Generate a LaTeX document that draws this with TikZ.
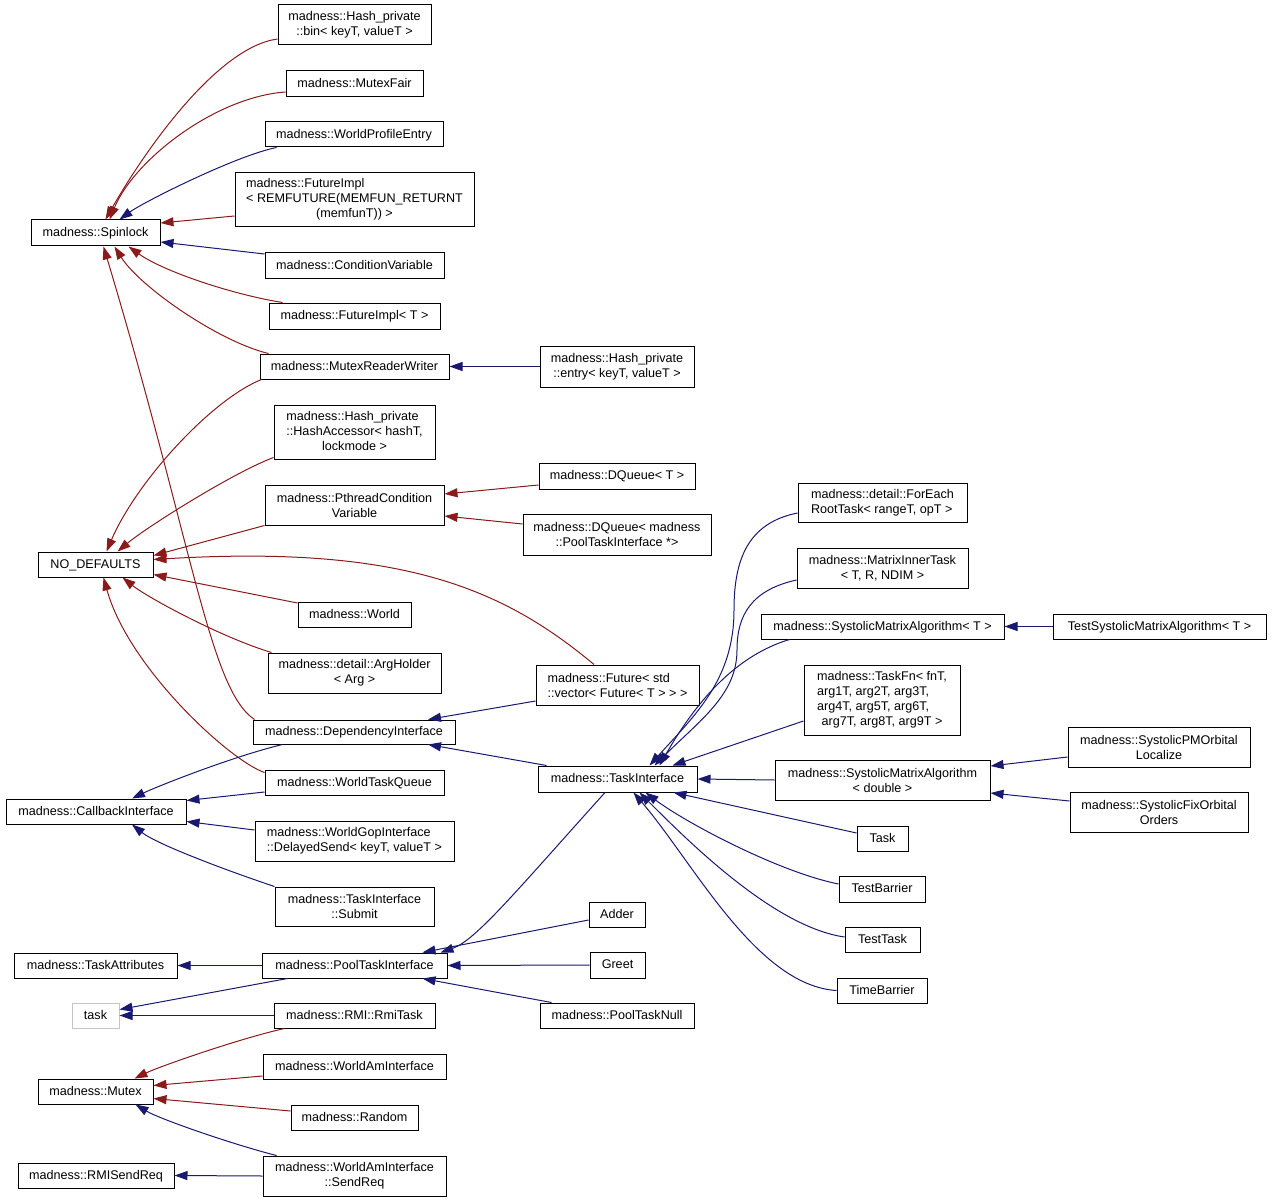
\documentclass[tikz,border=0pt]{standalone}
\usepackage{fontspec}
\setmainfont{Liberation Sans}
\usetikzlibrary{arrows.meta}
\definecolor{firebrick}{HTML}{8B1A1A}
\definecolor{navy}{HTML}{191970}
% class box from its corners: [style]{x1}{y1}{x2}{y2}{name}{label}
\newcommand{\klass}[7][cls]{\node[#1, minimum width={#4-#2}, minimum height={#5-#3}] (#6) at ({(#2+#4)/2},{(#3+#5)/2}) {#7};}

\begin{document}
\begin{tikzpicture}[x=1pt, y=-1pt,
    boxbase/.style={draw, fill=white, line width=1pt, inner sep=0pt, font=\fontsize{12.6}{15}\selectfont},
    cls/.style={boxbase, text height=10pt, text depth=2.5pt},
    mcls/.style={boxbase, align=center},
    lcls/.style={boxbase, align=left},
    pub/.style={draw=navy, line width=1pt, -{Triangle[length=13pt, width=9pt]}},
    priv/.style={draw=firebrick, line width=1pt, -{Triangle[length=13pt, width=9pt]}}]
  \useasboundingbox (0,0) rectangle (1272,1201);
  % first column: base classes
  \klass{31}{220}{160}{246}{spin}{madness::Spinlock}
  \klass{38}{552}{153}{577}{nodef}{NO\_DEFAULTS}
  \klass{6}{799}{186}{824}{cbi}{madness::CallbackInterface}
  \klass{14}{953}{177}{978}{tattr}{madness::TaskAttributes}
  \klass[cls, draw=gray!45]{72}{1003}{119}{1028}{task}{task}
  \klass{38}{1079}{153}{1104}{mutex}{madness::Mutex}
  \klass{18}{1163}{174}{1188}{rmisr}{madness::RMISendReq}
  % second column
  \klass[mcls]{278}{5}{431}{45}{bin}{madness::Hash\_private\\::bin< keyT, valueT >}
  \klass{286}{71}{423}{97}{mfair}{madness::MutexFair}
  \klass{265}{122}{443}{147}{wpe}{madness::WorldProfileEntry}
  \klass[boxbase]{235}{173}{474}{227}{fimplrem}{\begin{tabular}{@{}l@{}}madness::FutureImpl\\< REMFUTURE(MEMFUN\_RETURNT\\\multicolumn{1}{@{}c@{}}{(memfunT)) >}\end{tabular}}
  \klass{265}{253}{444}{278}{condvar}{madness::ConditionVariable}
  \klass{269}{303}{440}{329}{fimpl}{madness::FutureImpl< T >}
  \klass{260}{354}{449}{379}{mrw}{madness::MutexReaderWriter}
  \klass[boxbase]{274}{405}{435}{459}{hacc}{\begin{tabular}{@{}l@{}}madness::Hash\_private\\::HashAccessor< hashT,\\\multicolumn{1}{@{}c@{}}{lockmode >}\end{tabular}}
  \klass[mcls]{265}{485}{444}{525}{pcv}{madness::PthreadCondition\\Variable}
  \klass{298}{602}{411}{627}{world}{madness::World}
  \klass[mcls]{268}{653}{441}{693}{argh}{madness::detail::ArgHolder\\< Arg >}
  \klass{253}{720}{455}{744}{depint}{madness::DependencyInterface}
  \klass{265}{770}{444}{795}{wtq}{madness::WorldTaskQueue}
  \klass[lcls]{255}{821}{454}{861}{dsend}{madness::WorldGopInterface\\::DelayedSend< keyT, valueT >}
  \klass[mcls]{275}{887}{434}{926}{submit}{madness::TaskInterface\\::Submit}
  \klass{262}{953}{447}{978}{pti}{madness::PoolTaskInterface}
  \klass{274}{1003}{435}{1028}{rmitask}{madness::RMI::RmiTask}
  \klass{263}{1054}{446}{1079}{wai}{madness::WorldAmInterface}
  \klass{291}{1105}{418}{1130}{random}{madness::Random}
  \klass[mcls]{263}{1156}{446}{1196}{sendreq}{madness::WorldAmInterface\\::SendReq}
  % third column
  \klass[mcls]{540}{346}{694}{387}{entry}{madness::Hash\_private\\::entry< keyT, valueT >}
  \klass{539}{463}{695}{489}{dqt}{madness::DQueue< T >}
  \klass[mcls]{523}{514}{711}{555}{dqp}{madness::DQueue< madness\\::PoolTaskInterface *>}
  \klass[lcls]{536}{665}{699}{705}{futvec}{madness::Future< std\\::vector< Future< T > > >}
  \klass{538}{766}{697}{792}{tif}{madness::TaskInterface}
  \klass{589}{902}{645}{927}{adder}{Adder}
  \klass{590}{952}{645}{978}{greet}{Greet}
  \klass{540}{1003}{694}{1028}{ptnull}{madness::PoolTaskNull}
  % fourth and fifth column
  \klass[lcls]{798}{483}{967}{522}{fer}{madness::detail::ForEach\\RootTask< rangeT, opT >}
  \klass[mcls]{797}{548}{968}{588}{mit}{madness::MatrixInnerTask\\< T, R, NDIM >}
  \klass{761}{614}{1004}{639}{smat}{madness::SystolicMatrixAlgorithm< T >}
  \klass{1053}{614}{1266}{639}{tsmat}{TestSystolicMatrixAlgorithm< T >}
  \klass[boxbase]{804}{665}{960}{735}{taskfn}{\begin{tabular}{@{}l@{}}\multicolumn{1}{@{}c@{}}{madness::TaskFn< fnT,}\\arg1T, arg2T, arg3T,\\arg4T, arg5T, arg6T,\\\multicolumn{1}{@{}c@{}}{arg7T, arg8T, arg9T >}\end{tabular}}
  \klass[mcls]{775}{760}{990}{800}{smad}{madness::SystolicMatrixAlgorithm\\< double >}
  \klass[mcls]{1068}{727}{1250}{767}{spm}{madness::SystolicPMOrbital\\Localize}
  \klass[mcls]{1070}{792}{1248}{832}{sfix}{madness::SystolicFixOrbital\\Orders}
  \klass{857}{826}{908}{851}{tsk}{Task}
  \klass{839}{876}{925}{902}{tbar}{TestBarrier}
  \klass{845}{927}{920}{952}{ttask}{TestTask}
  \klass{837}{978}{927}{1003}{timeb}{TimeBarrier}

  % into Spinlock
  \draw[priv] ([yshift=-14pt]bin.west) .. controls +(-60,8) and +(40,-70) .. ([xshift=10pt]spin.north);
  \draw[priv] ([yshift=-8pt]mfair.west) .. controls +(-70,5) and +(25,-60) .. ([xshift=14pt]spin.north);
  \draw[pub] ([xshift=12pt]wpe.south west) .. controls +(-40,8) and +(25,-18) .. ([xshift=24pt]spin.north);
  \draw[priv] ([yshift=-16pt]fimplrem.west) -- ([yshift=10pt]spin.east);
  \draw[pub] ([yshift=11.5pt]condvar.west) -- ([yshift=-9pt]spin.east);
  \draw[priv] ([xshift=14pt]fimpl.north west) .. controls +(-50,-8) and +(35,25) .. ([xshift=33pt]spin.south);
  \draw[priv] ([xshift=9pt]mrw.north west) .. controls +(-50,-12) and +(25,40) .. ([xshift=19pt]spin.south);
  \draw[priv] ([xshift=2pt]depint.north west) .. controls +(-45,-30) and +(90,300) .. ([xshift=8pt]spin.south);
  % into NO_DEFAULTS
  \draw[priv] ([xshift=2pt]mrw.south west) .. controls +(-50,20) and +(30,-70) .. ([xshift=11pt]nodef.north);
  \draw[priv] ([yshift=2pt]hacc.south west) .. controls +(-40,15) and +(30,-25) .. ([xshift=22pt]nodef.north);
  \draw[priv] (pcv.south west) -- ([yshift=9pt]nodef.east);
  \draw[priv] ([xshift=-23.5pt]futvec.north) .. controls +(-90,-75) and +(250,-15) .. ([yshift=5pt]nodef.east);
  \draw[priv] ([yshift=11.5pt]world.west) -- ([yshift=-10pt]nodef.east);
  \draw[priv] ([xshift=4pt]argh.north west) .. controls +(-50,-15) and +(25,20) .. ([xshift=27pt]nodef.south);
  \draw[priv] ([yshift=10pt]wtq.west) .. controls +(-35,-12) and +(25,90) .. ([xshift=8pt]nodef.south);
  % middle part
  \draw[pub] (entry.west) -- (mrw.east);
  \draw[priv] ([yshift=-9pt]dqt.west) -- ([yshift=11pt]pcv.east);
  \draw[priv] ([yshift=10.5pt]dqp.west) -- ([yshift=-11pt]pcv.east);
  \draw[pub] ([yshift=-16pt]futvec.west) -- ([xshift=74pt]depint.north);
  \draw[pub] ([xshift=9pt]tif.north west) -- ([xshift=74pt]depint.south);
  % into CallbackInterface
  \draw[pub] ([xshift=30pt]depint.south west) .. controls +(-50,12) and +(25,-12) .. ([xshift=36pt]cbi.north);
  \draw[pub] ([yshift=-9.5pt]wtq.west) -- ([yshift=11pt]cbi.east);
  \draw[pub] ([yshift=11pt]dsend.west) -- ([yshift=-10pt]cbi.east);
  \draw[pub] (submit.north west) .. controls +(-45,-15) and +(25,20) .. ([xshift=36pt]cbi.south);
  % lower left
  \draw[pub] (pti.west) -- (tattr.east);
  \draw[pub] ([xshift=26pt]pti.south west) -- ([yshift=6pt]task.east);
  \draw[pub] (rmitask.west) -- (task.east);
  \draw[priv] ([xshift=11pt]rmitask.south west) .. controls +(-45,10) and +(25,-12) .. ([xshift=39pt]mutex.north);
  \draw[priv] ([yshift=-9.5pt]wai.west) -- ([yshift=6pt]mutex.east);
  \draw[priv] ([yshift=6.5pt]random.west) -- ([yshift=-7pt]mutex.east);
  \draw[pub] ([xshift=14pt]sendreq.north west) .. controls +(-40,-10) and +(25,15) .. ([xshift=40pt]mutex.south);
  \draw[pub] (sendreq.west) -- (rmisr.east);
  % into PoolTaskInterface
  \draw[pub] ([xshift=-12.5pt]tif.south) .. controls +(-90,100) and +(35,-12) .. ([xshift=-7pt]pti.north east);
  \draw[pub] ([yshift=-5.5pt]adder.west) -- ([xshift=-25pt]pti.north east);
  \draw[pub] (greet.west) -- (pti.east);
  \draw[pub] ([xshift=12pt]ptnull.north west) -- ([xshift=-25pt]pti.south east);
  % into TaskInterface
  \draw[pub] ([yshift=-10.5pt]fer.west) .. controls +(-50,10) and +(0,-50) .. (734,610) .. controls +(0,70) and +(45,-50) .. ([xshift=32pt]tif.north);
  \draw[pub] ([yshift=-12pt]mit.west) .. controls +(-45,10) and +(0,-35) .. (737,650) .. controls +(0,45) and +(45,-45) .. ([xshift=37pt]tif.north);
  \draw[pub] ([xshift=29pt]smat.south west) .. controls +(-50,15) and +(40,-70) .. ([xshift=42pt]tif.north);
  \draw[pub] ([yshift=-21pt]taskfn.west) -- ([xshift=55pt]tif.north);
  \draw[pub] (tsmat.west) -- (smat.east);
  \draw[pub] (smad.west) -- (tif.east);
  \draw[pub] ([yshift=-10pt]spm.west) -- ([yshift=14pt]smad.east);
  \draw[pub] ([yshift=11pt]sfix.west) -- ([yshift=-13pt]smad.east);
  \draw[pub] ([yshift=5.5pt]tsk.west) -- ([xshift=56pt]tif.south);
  \draw[pub] ([yshift=5pt]tbar.west) .. controls +(-60,-12) and +(40,30) .. ([xshift=28pt]tif.south);
  \draw[pub] ([yshift=2.5pt]ttask.west) .. controls +(-70,-10) and +(50,50) .. ([xshift=22pt]tif.south);
  \draw[pub] (timeb.west) .. controls +(-80,-5) and +(60,70) .. ([xshift=16pt]tif.south);
\end{tikzpicture}
\end{document}
